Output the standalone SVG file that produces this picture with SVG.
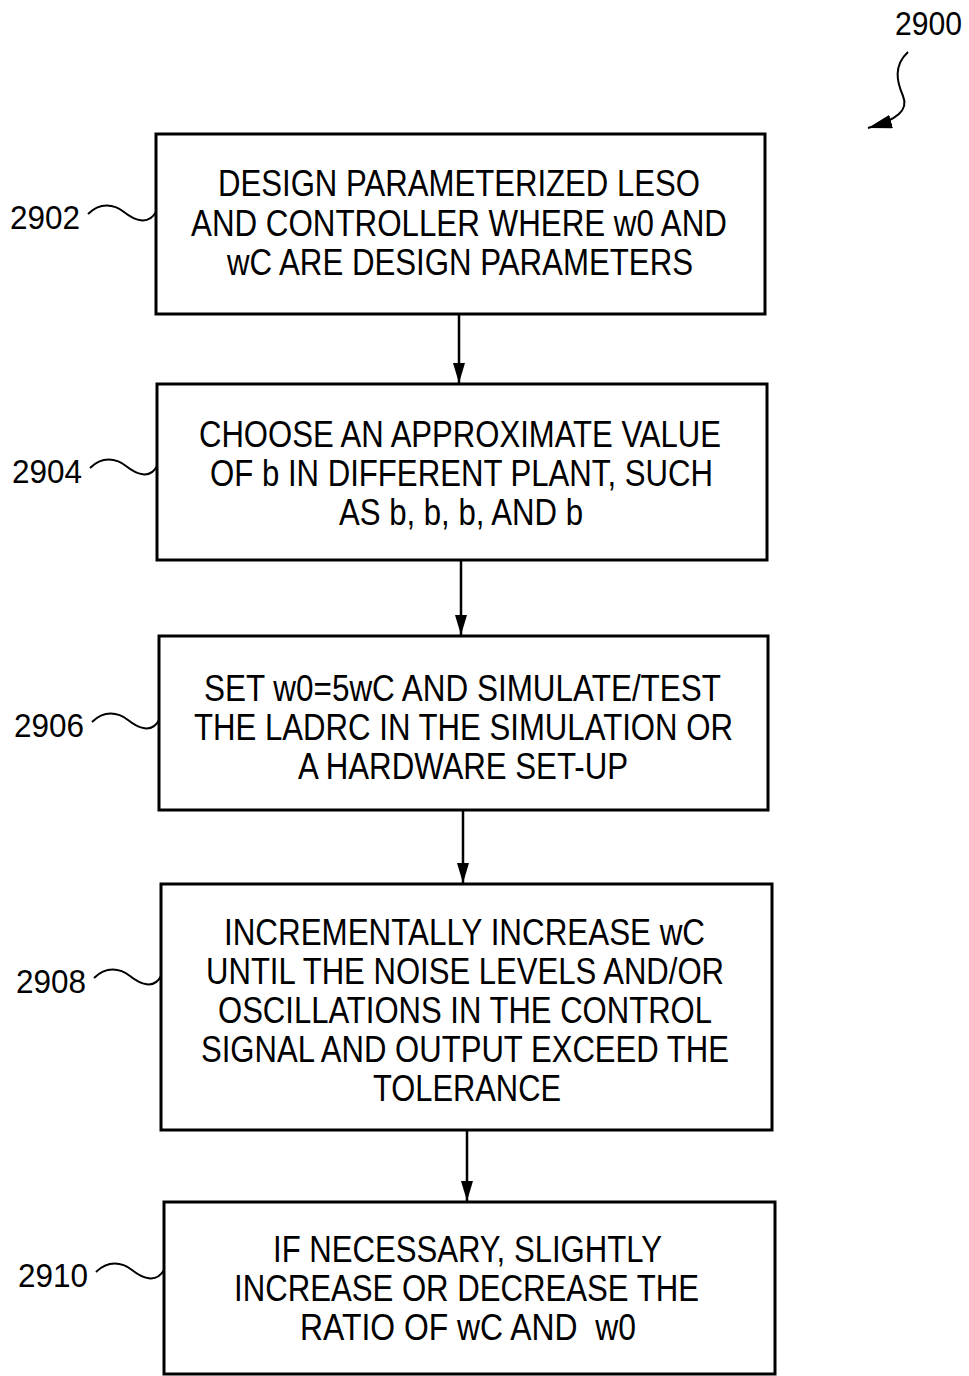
<svg xmlns="http://www.w3.org/2000/svg" width="969" height="1376" viewBox="0 0 969 1376">
<style>
.box{fill:#fff;stroke:#000;stroke-width:3}
.t{font-family:"Liberation Sans",Arial,sans-serif;font-size:37px;fill:#000}
.lbl{font-family:"Liberation Sans",Arial,sans-serif;font-size:34px;fill:#000}
.ln{fill:none;stroke:#000;stroke-width:2.5}
.sq{fill:none;stroke:#000;stroke-width:2}
</style>
<defs>
<marker id="ah" markerWidth="20" markerHeight="12" refX="20" refY="6" orient="auto" markerUnits="userSpaceOnUse" viewBox="0 0 20 12">
<path d="M0,0 L20,6 L0,12 Z" fill="#000"/>
</marker>
<marker id="ah2" markerWidth="24" markerHeight="14" refX="24" refY="7" orient="auto" markerUnits="userSpaceOnUse" viewBox="0 0 24 14">
<path d="M0,0 L24,7 L0,14 Z" fill="#000"/>
</marker>
</defs>
<rect width="969" height="1376" fill="#fff"/>
<g id="ref2900">
<text class="lbl" x="895" y="35" textLength="67" lengthAdjust="spacingAndGlyphs">2900</text>
<path class="sq" d="M908,52 C893,66 897,82 903,96 C909,110 897,120 868,128" marker-end="url(#ah2)"/>
</g>
<g id="connectors">
<line class="ln" x1="459" y1="315" x2="459" y2="383" marker-end="url(#ah)"/>
<line class="ln" x1="461" y1="561" x2="461" y2="635" marker-end="url(#ah)"/>
<line class="ln" x1="463" y1="811" x2="463" y2="883" marker-end="url(#ah)"/>
<line class="ln" x1="467" y1="1131" x2="467" y2="1201" marker-end="url(#ah)"/>
</g>
<g id="n2902">
<rect class="box" x="156" y="134" width="609" height="180"/>
<text class="t" x="218" y="196" textLength="482" lengthAdjust="spacingAndGlyphs">DESIGN PARAMETERIZED LESO</text>
<text class="t" x="191" y="236" textLength="536" lengthAdjust="spacingAndGlyphs">AND CONTROLLER WHERE w0 AND</text>
<text class="t" x="227" y="275" textLength="466" lengthAdjust="spacingAndGlyphs">wC ARE DESIGN PARAMETERS</text>
<text class="lbl" x="10" y="229" textLength="70" lengthAdjust="spacingAndGlyphs">2902</text>
<path class="sq" d="M88,214 C100,202 114,204 124,212 C134,220 148,226 156,212"/>
</g>
<g id="n2904">
<rect class="box" x="157" y="384" width="610" height="176"/>
<text class="t" x="199" y="447" textLength="522" lengthAdjust="spacingAndGlyphs">CHOOSE AN APPROXIMATE VALUE</text>
<text class="t" x="210" y="486" textLength="503" lengthAdjust="spacingAndGlyphs">OF b IN DIFFERENT PLANT, SUCH</text>
<text class="t" x="339" y="525" textLength="244" lengthAdjust="spacingAndGlyphs">AS b, b, b, AND b</text>
<text class="lbl" x="12" y="483" textLength="70" lengthAdjust="spacingAndGlyphs">2904</text>
<path class="sq" d="M90,468 C102,456 116,458 126,466 C136,474 150,480 157,466"/>
</g>
<g id="n2906">
<rect class="box" x="159" y="636" width="609" height="174"/>
<text class="t" x="204" y="701" textLength="517" lengthAdjust="spacingAndGlyphs">SET w0=5wC AND SIMULATE/TEST</text>
<text class="t" x="194" y="740" textLength="539" lengthAdjust="spacingAndGlyphs">THE LADRC IN THE SIMULATION OR</text>
<text class="t" x="298" y="779" textLength="330" lengthAdjust="spacingAndGlyphs">A HARDWARE SET-UP</text>
<text class="lbl" x="14" y="737" textLength="70" lengthAdjust="spacingAndGlyphs">2906</text>
<path class="sq" d="M92,722 C104,710 118,712 128,720 C138,728 152,734 159,720"/>
</g>
<g id="n2908">
<rect class="box" x="161" y="884" width="611" height="246"/>
<text class="t" x="224" y="945" textLength="481" lengthAdjust="spacingAndGlyphs">INCREMENTALLY INCREASE wC</text>
<text class="t" x="206" y="984" textLength="518" lengthAdjust="spacingAndGlyphs">UNTIL THE NOISE LEVELS AND/OR</text>
<text class="t" x="218" y="1023" textLength="494" lengthAdjust="spacingAndGlyphs">OSCILLATIONS IN THE CONTROL</text>
<text class="t" x="201" y="1062" textLength="528" lengthAdjust="spacingAndGlyphs">SIGNAL AND OUTPUT EXCEED THE</text>
<text class="t" x="373" y="1101" textLength="188" lengthAdjust="spacingAndGlyphs">TOLERANCE</text>
<text class="lbl" x="16" y="993" textLength="70" lengthAdjust="spacingAndGlyphs">2908</text>
<path class="sq" d="M94,978 C106,966 120,968 130,976 C140,984 154,990 161,976"/>
</g>
<g id="n2910">
<rect class="box" x="164" y="1202" width="611" height="172"/>
<text class="t" x="273" y="1262" textLength="389" lengthAdjust="spacingAndGlyphs">IF NECESSARY, SLIGHTLY</text>
<text class="t" x="234" y="1301" textLength="465" lengthAdjust="spacingAndGlyphs">INCREASE OR DECREASE THE</text>
<text class="t" x="300" y="1340" textLength="336" lengthAdjust="spacingAndGlyphs" xml:space="preserve">RATIO OF wC AND  w0</text>
<text class="lbl" x="18" y="1287" textLength="70" lengthAdjust="spacingAndGlyphs">2910</text>
<path class="sq" d="M96,1272 C108,1260 122,1262 132,1270 C142,1278 156,1284 164,1270"/>
</g>
</svg>
